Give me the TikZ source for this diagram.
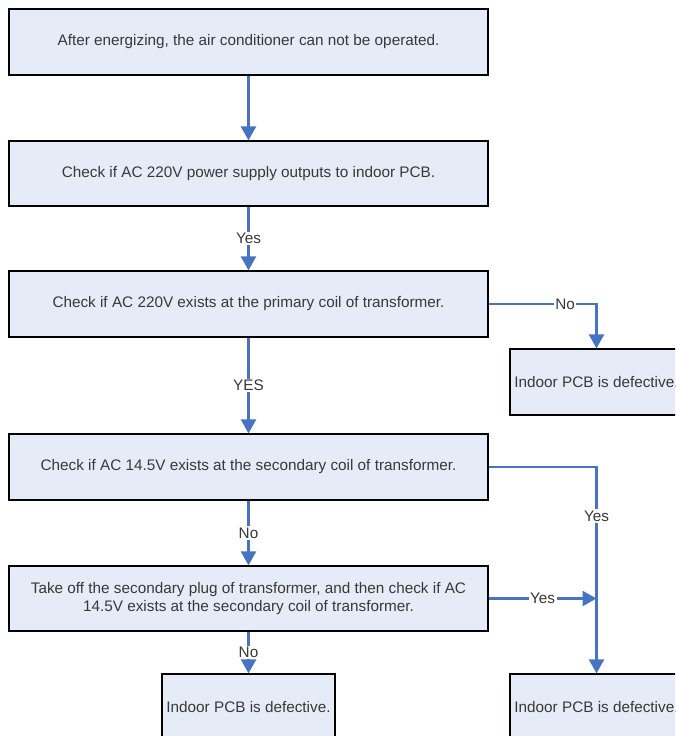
\documentclass[tikz,border=0pt]{standalone}
\usepackage{fontspec}
\setmainfont{Liberation Sans}
\usetikzlibrary{arrows.meta}
\definecolor{boxfill}{HTML}{E6ECF7}
\definecolor{arrowblue}{HTML}{4674C1}
\definecolor{txt}{HTML}{383838}
\tikzset{
  box/.style={draw=black, line width=1.2pt, fill=boxfill, minimum width=479pt, minimum height=66pt, inner sep=0pt, align=center, text=txt, font=\fontsize{15.3}{18.5}\selectfont},
  smallbox/.style={box, minimum width=173pt},
  conn/.style={draw=arrowblue, line width=2.3pt, -{Triangle[width=15pt,length=14pt]}},
  lbl/.style={fill=white, inner sep=1.5pt, text=txt, font=\fontsize{15.3}{18.5}\selectfont}
}
\begin{document}
\begin{tikzpicture}[x=1pt,y=-1pt]
\useasboundingbox (0,0) rectangle (675,736);
\clip (0,0) rectangle (675,736);
\node[box] (b1) at (248.5,42) {After energizing, the air conditioner can not be operated.};
\node[box, minimum height=65pt] (b2) at (248.5,173.5) {Check if AC 220V power supply outputs to indoor PCB.};
\node[box] (b3) at (248.5,304) {Check if AC 220V exists at the primary coil of transformer.};
\node[smallbox] (ra) at (596.5,382) {Indoor PCB is defective.};
\node[box] (b4) at (248.5,467) {Check if AC 14.5V exists at the secondary coil of transformer.};
\node[box, minimum height=65pt] (b5) at (248.5,598.5) {Take off the secondary plug of transformer, and then check if AC\\14.5V exists at the secondary coil of transformer.};
\node[smallbox] (bl) at (248.5,707) {Indoor PCB is defective.};
\node[smallbox] (br) at (596.5,707) {Indoor PCB is defective.};
\coordinate (j) at (596.5,598.5);

\draw[conn] (b1.south) -- (b2.north);
\draw[conn] (b2.south) -- node[lbl]{Yes} (b3.north);
\draw[conn] (b3.south) -- node[lbl]{YES} (b4.north);
\draw[conn] (b4.south) -- node[lbl]{No} (b5.north);
\draw[conn] (b5.south) -- node[lbl]{No} (bl.north);
\draw[conn] (b3.east) -- node[lbl, pos=0.71]{No} (b3.east -| ra.north) -- (ra.north);
\draw[conn] (b4.east) -- (b4.east -| br.north) -- node[lbl, pos=0.237]{Yes} (br.north);
\draw[conn] (b5.east) -- node[lbl]{Yes} (j);
\end{tikzpicture}
\end{document}
